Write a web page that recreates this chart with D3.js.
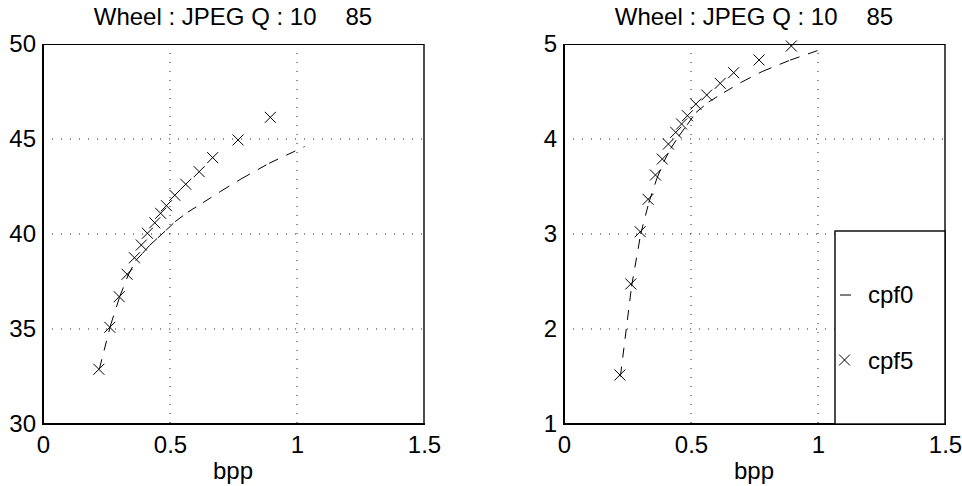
<!DOCTYPE html>
<html><head><meta charset="utf-8">
<script src="https://cdn.jsdelivr.net/npm/d3@7"></script>
<style>
body{margin:0;background:#fff;}
svg{display:block;font-family:"Liberation Sans",Arial,sans-serif;}
</style></head>
<body>
<svg id="chart" width="962" height="486"></svg>
<script>
// ---- data ----
const titleText = "Wheel : JPEG Q : 10";
const titleEnd = "85";
const xLabel = "bpp";
const xTicks = [0, 0.5, 1, 1.5];
const yTicksLeft = [30, 35, 40, 45, 50];
const yTicksRight = [1, 2, 3, 4, 5];
const seriesNames = ["cpf0", "cpf5"];
// cpf0 (dashed line) bpp and values
const cpf0Bpp = [0.222, 0.266, 0.302, 0.334, 0.365, 0.393, 0.420, 0.452, 0.485, 0.52, 0.57, 0.63, 0.70, 0.78, 0.89, 1.03];
const cpf0Left = [32.9, 35.2, 36.7, 37.8, 38.6, 39.0, 39.4, 39.8, 40.2, 40.65, 41.15, 41.65, 42.25, 42.9, 43.72, 44.6];
const cpf0Right = [1.5, 2.45, 3.0, 3.33, 3.58, 3.76, 3.90, 4.03, 4.15, 4.28, 4.39, 4.49, 4.60, 4.71, 4.83, 4.96];
// cpf5 (x markers)
const cpf5Bpp = [0.220, 0.263, 0.300, 0.331, 0.360, 0.387, 0.411, 0.440, 0.463, 0.486, 0.519, 0.562, 0.615, 0.668, 0.768, 0.895];
const cpf5Left = [32.88, 35.09, 36.70, 37.88, 38.75, 39.42, 40.04, 40.59, 41.09, 41.49, 42.04, 42.62, 43.28, 44.02, 44.95, 46.14];
const cpf5Right = [1.516, 2.474, 3.024, 3.365, 3.621, 3.789, 3.947, 4.07, 4.158, 4.245, 4.368, 4.463, 4.586, 4.698, 4.832, 4.979];

const svg = d3.select("#chart");
const FS = 24;

function panel(left, yDomain, yTicks, c0, c5, legend) {
  const top = 44, size = 380;
  const g = svg.append("g").attr("transform", `translate(${left},${top})`);
  const x = d3.scaleLinear().domain([0, 1.5]).range([0, size + 1]);
  const y = d3.scaleLinear().domain(yDomain).range([size, 0]);
  // grid
  g.append("g").selectAll("line").data(xTicks.slice(1, -1)).join("line")
    .attr("x1", d => x(d)).attr("x2", d => x(d)).attr("y1", 0).attr("y2", size)
    .attr("stroke", "#222").attr("stroke-width", 1).attr("stroke-dasharray", "1,8");
  g.append("g").selectAll("line").data(yTicks.slice(1, -1)).join("line")
    .attr("y1", d => y(d)).attr("y2", d => y(d)).attr("x1", 0).attr("x2", size)
    .attr("stroke", "#222").attr("stroke-width", 1).attr("stroke-dasharray", "1,8");
  // frame
  g.append("line").attr("x1", 0).attr("x2", x(1.5)).attr("y1", 0.5).attr("y2", 0.5).attr("stroke", "#000").attr("stroke-width", 1);
  g.append("line").attr("x1", x(1.5)).attr("x2", x(1.5)).attr("y1", 0).attr("y2", size).attr("stroke", "#000").attr("stroke-width", 1.4);
  g.append("line").attr("x1", 0).attr("x2", 0).attr("y1", 0).attr("y2", size + 1).attr("stroke", "#000").attr("stroke-width", 2);
  g.append("line").attr("x1", -1).attr("x2", x(1.5) + 1).attr("y1", size).attr("y2", size).attr("stroke", "#000").attr("stroke-width", 2.2);
  // axes labels
  const ax = g.append("g").attr("transform", `translate(0,${size})`)
    .call(d3.axisBottom(x).tickValues(xTicks).tickFormat(d3.format("")).tickSize(0).tickPadding(12));
  ax.select(".domain").remove();
  ax.selectAll("text").attr("font-size", FS).attr("font-family", "Liberation Sans, Arial, sans-serif").attr("fill", "#000");
  const ay = g.append("g")
    .call(d3.axisLeft(y).tickValues(yTicks).tickFormat(d3.format("")).tickSize(0).tickPadding(7));
  ay.select(".domain").remove();
  ay.selectAll("text").attr("font-size", FS).attr("font-family", "Liberation Sans, Arial, sans-serif").attr("fill", "#000");
  // x label
  g.append("text").attr("x", size / 2).attr("y", size + 55).attr("text-anchor", "middle")
    .attr("font-size", FS).text(xLabel);
  // title
  const t = g.append("text").attr("x", size / 2).attr("y", -19).attr("text-anchor", "middle")
    .attr("font-size", FS);
  t.append("tspan").text(titleText);
  t.append("tspan").attr("dx", 29).text(titleEnd);
  // cpf0 dashed line, dash restarting at each vertex
  const pts0 = cpf0Bpp.map((b, i) => [x(b), y(c0[i])]);
  const line = d3.line();
  g.append("g").selectAll("path").data(d3.pairs(pts0)).join("path")
    .attr("d", d => line(d)).attr("fill", "none").attr("stroke", "#000")
    .attr("stroke-width", 1).attr("stroke-dasharray", "10,9");
  // cpf5 markers
  const ms = 5.5;
  g.append("g").selectAll("path").data(cpf5Bpp.map((b, i) => [x(b), y(c5[i])])).join("path")
    .attr("d", d => `M${d[0]-ms},${d[1]-ms}L${d[0]+ms},${d[1]+ms}M${d[0]-ms},${d[1]+ms}L${d[0]+ms},${d[1]-ms}`)
    .attr("stroke", "#000").attr("stroke-width", 1).attr("fill", "none");
  if (legend) {
    const lx = 271, ly = 187;
    const lg = g.append("g");
    lg.append("rect").attr("x", lx).attr("y", ly).attr("width", x(1.5) - lx).attr("height", size - ly)
      .attr("fill", "#fff").attr("stroke", "#000").attr("stroke-width", 1.4);
    lg.append("line").attr("x1", lx + 5).attr("x2", lx + 16).attr("y1", ly + 64).attr("y2", ly + 64)
      .attr("stroke", "#000").attr("stroke-width", 1);
    lg.append("text").attr("x", lx + 33).attr("y", ly + 72).attr("font-size", FS).text(seriesNames[0]);
    const cx = lx + 9.5, cy = ly + 129;
    lg.append("path").attr("d", `M${cx-ms},${cy-ms}L${cx+ms},${cy+ms}M${cx-ms},${cy+ms}L${cx+ms},${cy-ms}`)
      .attr("stroke", "#000").attr("stroke-width", 1);
    lg.append("text").attr("x", lx + 33).attr("y", ly + 138).attr("font-size", FS).text(seriesNames[1]);
  }
}

panel(43, [30, 50], yTicksLeft, cpf0Left, cpf5Left, false);
panel(564, [1, 5], yTicksRight, cpf0Right, cpf5Right, true);
</script>
</body></html>
